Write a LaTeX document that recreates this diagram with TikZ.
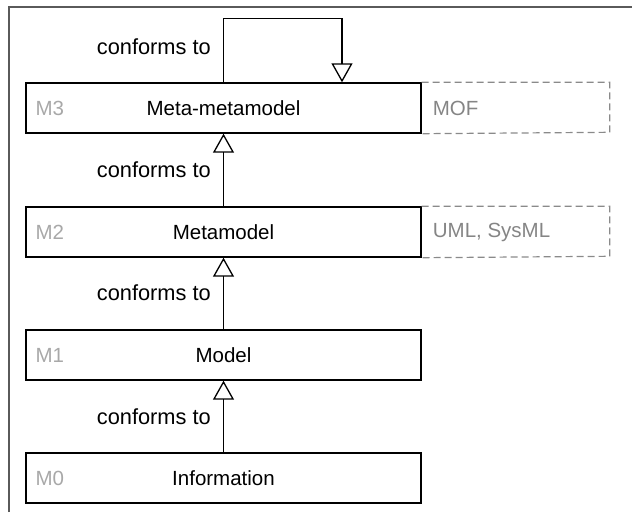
\documentclass[tikz,border=0pt]{standalone}
\usepackage{fontspec}
\setmainfont{Liberation Sans}
\usetikzlibrary{arrows.meta}
\definecolor{framegray}{HTML}{5A5A5A}
\definecolor{dashgray}{HTML}{8A8A8A}
\definecolor{lvlgray}{HTML}{A8A8A8}
\definecolor{extgray}{HTML}{858585}
\begin{document}
\begin{tikzpicture}[x=1pt,y=-1pt,
  lvlbox/.style={draw, line width=1.4pt, minimum width=395pt, minimum height=50pt, inner sep=0pt, font=\fontsize{20.5}{24}\selectfont},
  lvltag/.style={anchor=west, text=lvlgray, inner sep=0pt, font=\fontsize{20.5}{24}\selectfont},
  exttag/.style={anchor=west, text=extgray, inner sep=0pt, font=\fontsize{20.5}{24}\selectfont},
  extline/.style={draw=dashgray, line width=1.2pt, dash pattern=on 7pt off 4pt},
  conf/.style={-{Triangle[open, width=21pt, length=19pt, line width=1.3pt]}, line width=1.4pt},
  conflbl/.style={anchor=east, inner sep=0pt, font=\fontsize{21.8}{25}\selectfont}
]
\useasboundingbox (0,0) rectangle (632,512);
\draw[framegray, line width=1.3pt] (9,512) -- (9,7) -- (632,7);

\node[lvlbox] (m3) at (223.5,108) {Meta-metamodel};
\node[lvlbox] (m2) at (223.5,232) {Metamodel};
\node[lvlbox] (m1) at (223.5,355) {Model};
\node[lvlbox] (m0) at (223.5,478) {Information};

\node[lvltag] (t3) at ([xshift=10pt]m3.west) {M3};
\node[lvltag] (t2) at ([xshift=10pt]m2.west) {M2};
\node[lvltag] (t1) at ([xshift=10pt]m1.west) {M1};
\node[lvltag] (t0) at ([xshift=10pt]m0.west) {M0};

\draw[extline] (m3.north east) -- ++(188,0) -- ++(0,50) -- (m3.south east);
\draw[extline] (m2.north east) -- ++(188,0) -- ++(0,50) -- (m2.south east);
\node[exttag] (mof) at ([xshift=11pt]m3.east) {MOF};
\node[exttag] (uml) at ([xshift=11pt]m2.east) {UML, SysML};

\coordinate (lt) at ([yshift=64pt]m3.north);
\draw[conf] (m3.north) -- (lt) -- ++(118.5,0) -- ([xshift=118.5pt]m3.north);
\draw[conf] (m2.north) -- (m3.south);
\draw[conf] (m1.north) -- (m2.south);
\draw[conf] (m0.north) -- (m1.south);

\node[conflbl] (c3) at (211,47) {conforms to};
\node[conflbl] (c2) at (211,170) {conforms to};
\node[conflbl] (c1) at (211,293) {conforms to};
\node[conflbl] (c0) at (211,417) {conforms to};
\end{tikzpicture}
\end{document}
